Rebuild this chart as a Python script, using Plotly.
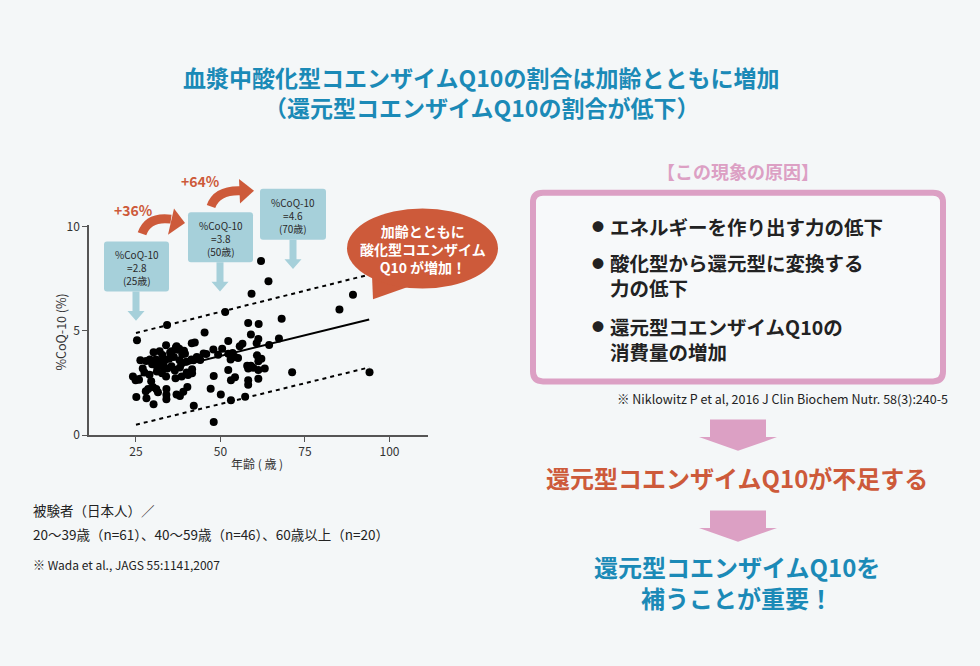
import plotly.graph_objects as go

# ---------------- data ----------------
ages = [62.0, 64.2, 59.2, 89.2, 85.2, 51.4, 68.1, 58.2, 61.3, 34.2,
        45.3, 59.0, 25.3, 52.3, 67.3, 61.2, 64.4, 60.7, 41.5, 42.4,
        33.9, 37.0, 55.7, 56.5, 37.8, 32.0, 30.2, 35.1, 38.7, 39.5,
        45.0, 45.8, 47.9, 49.3, 50.5, 52.3, 53.6, 54.3, 55.2, 53.0,
        60.8, 62.1, 61.2, 26.3, 28.0, 29.1, 30.9, 32.0, 33.6, 34.8,
        37.9, 38.5, 39.9, 41.4, 42.0, 31.3, 33.2, 34.3, 31.2, 32.7,
        33.9, 36.7, 38.5, 40.4, 41.6, 41.6, 24.1, 24.9, 25.9, 29.5,
        27.9, 28.6, 30.0, 31.0, 31.5, 34.0, 34.0, 34.0, 37.0, 38.0,
        39.0, 40.2, 25.1, 28.1, 30.2, 42.1, 48.0, 47.1, 50.1, 53.1,
        57.3, 48.0, 52.3, 53.1, 54.3, 58.2, 57.9, 59.0, 59.7, 61.2,
        63.1, 58.2, 58.2, 61.2, 71.2, 94.1, 36.2, 35.6, 32.8, 29.8,
        36.8, 39.2, 33.0, 27.0, 43.0, 27.5, 29.0, 35.5, 36.5, 38.0,
        40.0, 44.0, 31.8, 37.4]
coq10 = [8.36, 7.38, 6.78, 6.73, 6.03, 5.91, 5.59, 5.38, 5.33, 5.28,
         4.92, 4.83, 4.55, 4.52, 4.64, 4.61, 4.33, 4.41, 4.41, 4.44,
         4.31, 4.27, 4.27, 4.38, 4.14, 4.03, 3.98, 3.97, 3.88, 3.91,
         3.92, 3.89, 4.11, 3.86, 4.14, 3.91, 3.94, 3.75, 3.70, 3.63,
         3.83, 3.67, 3.55, 3.59, 3.56, 3.63, 3.63, 3.52, 3.59, 3.67,
         3.59, 3.44, 3.52, 3.63, 3.59, 3.25, 3.28, 3.20, 3.05, 2.97,
         2.81, 2.73, 2.81, 2.88, 3.16, 2.97, 2.81, 2.63, 2.66, 2.58,
         2.11, 2.22, 2.31, 2.22, 2.06, 2.22, 1.94, 1.72, 1.95, 1.88,
         2.08, 2.31, 1.83, 1.77, 1.48, 1.41, 2.84, 2.23, 1.95, 1.67,
         1.84, 0.63, 3.13, 2.63, 2.78, 3.20, 3.33, 3.33, 3.23, 3.13,
         3.20, 2.63, 2.42, 2.70, 3.02, 3.02, 3.75, 4.02, 3.85, 3.40,
         4.20, 4.05, 3.40, 3.20, 3.75, 3.00, 2.90, 3.30, 3.10, 3.25,
         3.00, 3.60, 3.45, 4.10]

fit_x = [25, 94]
fit_y = [2.8, 5.55]
upper_y = [4.9, 7.7]
lower_y = [0.5, 3.25]

x_ticks = [25, 50, 75, 100]
y_ticks = [0, 5, 10]

box_ages = [25, 50, 70]
box_vals = [2.8, 3.8, 4.6]
pct_labels = ["+36%", "+64%"]

title_lines = ["血漿中酸化型コエンザイムQ10の割合は加齢とともに増加",
               "（還元型コエンザイムQ10の割合が低下）"]
bubble_lines = ["加齢とともに", "酸化型コエンザイム", "Q10 が増加！"]
cause_title = "【この現象の原因】"
cause_lines = [["エネルギーを作り出す力の低下"],
               ["酸化型から還元型に変換する", "力の低下"],
               ["還元型コエンザイムQ10の", "消費量の増加"]]
cite_right = "※ Niklowitz P et al, 2016 J Clin Biochem Nutr. 58(3):240-5"
result1 = "還元型コエンザイムQ10が不足する"
result2 = ["還元型コエンザイムQ10を", "補うことが重要！"]
subjects = ["被験者（日本人）／",
            "20～39歳（n=61）、40～59歳（n=46）、60歳以上（n=20）"]
cite_left = "※ Wada et al., JAGS 55:1141,2007"

# ---------------- style ----------------
W, H = 980, 666
BG = "#f4f7f8"
BLUE = "#1b8ab7"
ORANGE = "#cd5a3a"
PINK = "#dca0c4"
LBLUE = "#a6d0da"
TXT = "#222222"
FONT = "Noto Sans CJK JP"


def X(px):
    return px / W


def Y(py):
    return 1 - py / H


fig = go.Figure()

fig.add_trace(go.Scatter(x=ages, y=coq10, mode="markers",
                         marker=dict(color="black", size=8), showlegend=False,
                         hoverinfo="skip"))
fig.add_trace(go.Scatter(x=fit_x, y=fit_y, mode="lines",
                         line=dict(color="black", width=2), showlegend=False))
fig.add_trace(go.Scatter(x=fit_x, y=upper_y, mode="lines",
                         line=dict(color="black", width=2, dash="4px,4px"), showlegend=False))
fig.add_trace(go.Scatter(x=fit_x, y=lower_y, mode="lines",
                         line=dict(color="black", width=2, dash="4px,4px"), showlegend=False))

shapes = []
ann = []


def text(px, py, s, size, color=TXT, bold=False, xanchor="center", angle=0, align="center"):
    ann.append(dict(x=X(px), y=Y(py), xref="paper", yref="paper", text=f"<b>{s}</b>" if bold else s,
                    showarrow=False, xanchor=xanchor, yanchor="middle", textangle=angle, align=align,
                    font=dict(family=FONT, size=size, color=color)))


def rrect(x0, y0, x1, y1, r):
    return (f"M {X(x0+r)},{Y(y0)} L {X(x1-r)},{Y(y0)} Q {X(x1)},{Y(y0)} {X(x1)},{Y(y0+r)} "
            f"L {X(x1)},{Y(y1-r)} Q {X(x1)},{Y(y1)} {X(x1-r)},{Y(y1)} L {X(x0+r)},{Y(y1)} "
            f"Q {X(x0)},{Y(y1)} {X(x0)},{Y(y1-r)} L {X(x0)},{Y(y0+r)} Q {X(x0)},{Y(y0)} {X(x0+r)},{Y(y0)} Z")


def poly(pts):
    return "M " + " L ".join(f"{X(a)},{Y(b)}" for a, b in pts) + " Z"


def down_arrow(cx, top, shaft_w, shaft_bot, head_w, tip, color):
    pts = [(cx - shaft_w/2, top), (cx + shaft_w/2, top), (cx + shaft_w/2, shaft_bot),
           (cx + head_w/2, shaft_bot), (cx, tip), (cx - head_w/2, shaft_bot),
           (cx - shaft_w/2, shaft_bot)]
    shapes.append(dict(type="path", path=poly(pts), xref="paper", yref="paper",
                       fillcolor=color, line=dict(width=0), layer="above"))


# ---- title ----
text(481, 71, title_lines[0], 23, BLUE, True)
text(481, 101, title_lines[1], 23, BLUE, True)

# ---- info boxes over the scatter ----
box_geo = [(104, 239, 169, 290, 136, 320), (188, 209, 253, 260, 220, 290),
           (260, 185, 326, 237, 293, 267)]
for (x0, y0, x1, y1, cx, tip), a, v in zip(box_geo, box_ages, box_vals):
    shapes.append(dict(type="path", path=rrect(x0, y0, x1, y1, 3), xref="paper", yref="paper",
                       fillcolor=LBLUE, line=dict(width=0), layer="above"))
    down_arrow(cx, y1, 7, tip - 10, 17, tip, LBLUE)
    text((x0 + x1) / 2, (y0 + y1) / 2 + 1, f"%CoQ-10<br>={v}<br>({a}歳)", 10, "#2a2a2a")

# ---- orange curved arrows ----
for tail, ctrl, end, head in [((142, 231), (148, 213), (171, 216), [(174, 205), (185, 220), (168, 232)]),
                              ((211, 203), (217, 186), (241, 187), [(239, 175), (254, 187), (240, 200)])]:
    shapes.append(dict(type="path", xref="paper", yref="paper",
                       path=f"M {X(tail[0])},{Y(tail[1])} Q {X(ctrl[0])},{Y(ctrl[1])} {X(end[0])},{Y(end[1])}",
                       line=dict(color=ORANGE, width=9), layer="above"))
    shapes.append(dict(type="path", xref="paper", yref="paper", path=poly(head),
                       fillcolor=ORANGE, line=dict(width=0), layer="above"))
text(133, 207, pct_labels[0], 14, ORANGE, True)
text(200, 177, pct_labels[1], 14, ORANGE, True)

# ---- speech bubble ----
shapes.append(dict(type="path", xref="paper", yref="paper",
                   path=poly([(372, 274), (373, 298), (412, 284)]),
                   fillcolor=ORANGE, line=dict(width=0), layer="above"))
shapes.append(dict(type="circle", xref="paper", yref="paper", x0=X(347), x1=X(498), y0=Y(287), y1=Y(205),
                   fillcolor=ORANGE, line=dict(width=0), layer="above"))
text(423, 247, "<br>".join(bubble_lines), 14, "white", True)

# ---- axis titles ----
text(257, 466, "年齢 ( 歳 )", 12, "#333")
text(61, 332, "%CoQ-10 (%)", 12.5, "#333", angle=-90)

# ---- subjects text ----
text(31, 514, subjects[0], 13.5, TXT, xanchor="left")
text(31, 538, subjects[1], 13.5, TXT, xanchor="left")
text(31, 569, cite_left, 12, TXT, xanchor="left")

# ---- cause box ----
text(738, 167, cause_title, 18, PINK, True)
shapes.append(dict(type="path", path=rrect(533, 189, 943, 382, 10), xref="paper", yref="paper",
                   fillcolor="#f7f9fa", line=dict(color=PINK, width=6), layer="below"))
group_rows = [[224], [261, 286], [326, 351]]
for group, rows in zip(cause_lines, group_rows):
    text(598, rows[0], "●", 12, TXT)
    text(608, sum(rows) / len(rows), "<br>".join(group), 19.5, TXT, True, xanchor="left", align="left")
text(950, 400, cite_right, 12.5, TXT, xanchor="right")

# ---- result arrows / texts ----
down_arrow(738, 421, 56, 439, 78, 453, PINK)
text(737, 480, result1, 24, ORANGE, True)
down_arrow(738, 514, 56, 532, 78, 546, PINK)
text(737, 571, result2[0], 24, BLUE, True)
text(737, 603, result2[1], 24, BLUE, True)

fig.update_layout(
    width=W, height=H, margin=dict(l=0, r=0, t=0, b=0),
    paper_bgcolor=BG, plot_bgcolor=BG, showlegend=False,
    font=dict(family=FONT, color="#333"),
    shapes=shapes, annotations=ann,
    xaxis=dict(domain=[X(89), X(428)], range=[11.1, 111.4], tickvals=x_ticks,
               ticks="outside", ticklen=5, tickcolor="#555", showline=True, linecolor="#555",
               linewidth=1.5, showgrid=False, zeroline=False, tickfont=dict(size=12, color="#333")),
    yaxis=dict(domain=[Y(437), Y(221.6)], range=[0, 10.1], tickvals=y_ticks,
               ticks="outside", ticklen=5, tickcolor="#555", showline=True, linecolor="#555",
               linewidth=1.5, showgrid=False, zeroline=False, tickfont=dict(size=12, color="#333")),
)

fig.write_html("out.html", config={"displayModeBar": False},
               post_script="document.body.style.margin='0';document.body.style.overflow='hidden';")
